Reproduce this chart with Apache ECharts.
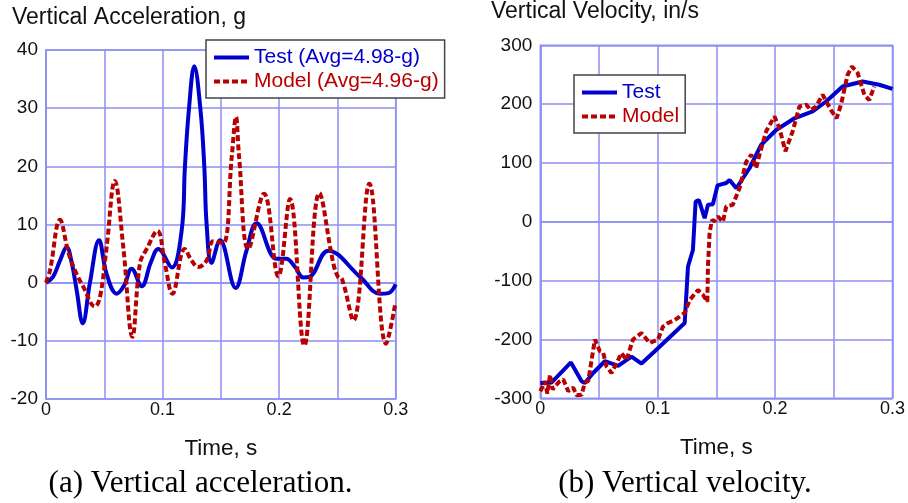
<!DOCTYPE html>
<html>
<head>
<meta charset="utf-8">
<script src="https://cdn.jsdelivr.net/npm/echarts@6/dist/echarts.min.js"></script>
<style>
html,body{margin:0;padding:0;background:#fff;}
#c{width:908px;height:503px;}
</style>
</head>
<body>
<div id="c"></div>
<script>
// ---- Data: (a) Vertical acceleration, g ----
const accTestT = [0,0.006,0.012,0.0178,0.022,0.0263,0.0315,0.0377,0.0455,0.052,0.0607,0.067,0.0735,0.0821,0.09,0.0963,0.1079,0.1164,0.1192,0.1227,0.1272,0.1324,0.1358,0.1378,0.142,0.1493,0.1627,0.172,0.1807,0.1979,0.206,0.2136,0.2207,0.226,0.2422,0.2694,0.2865,0.2937,0.3];
const accTestV = [0,1.0,3.8,6.1,3.5,-1.3,-7.0,0,7.3,1.5,-1.9,-0.5,2.4,-0.6,3.5,5.8,2.6,9,20,30,37.2,30,20,10,3.4,7.3,-0.9,5.5,10.2,4.1,4.1,2.7,0.9,1.0,5.5,1.0,-1.9,-1.8,-0.3];
const accModelT = [0,0.0034,0.012,0.0191,0.0249,0.032,0.042,0.0463,0.052,0.059,0.0663,0.0741,0.0806,0.0864,0.0955,0.102,0.1084,0.119,0.1249,0.1306,0.1378,0.1435,0.152,0.1595,0.163,0.1655,0.1736,0.187,0.1993,0.2093,0.2216,0.2345,0.2465,0.2508,0.2537,0.2637,0.2774,0.2917,0.2994];
const accModelV = [0,2.1,10.8,5.3,2.1,-0.7,-4.1,-2.5,6.1,17.5,6.1,-9.3,3.3,5.8,8.9,3.3,-1.9,5.8,3.8,2.7,3.8,7.1,6.8,22,28.5,22,5.8,15.3,1.1,14.4,-10.8,15.4,3.3,0.9,0.7,-6.5,17.0,-10.5,-3.9];

// ---- Data: (b) Vertical velocity, in/s ----
const velTestT = [0,0.0097,0.0261,0.0352,0.038,0.045,0.055,0.0663,0.0777,0.0862,0.0975,0.123,0.1258,0.13,0.1323,0.1351,0.14,0.1428,0.147,0.151,0.1584,0.1612,0.167,0.1782,0.1882,0.2009,0.2165,0.232,0.2434,0.2575,0.2745,0.2887,0.3];
const velTestV = [-274,-273,-239,-271,-274,-257,-237,-245,-229,-241,-220,-172,-76,-48,34.5,37,6,29,30,62,66,71,57,91,131,156,176,187.5,204.5,230,238.5,233,226];
const velModelT = [0,0.002,0.004,0.006,0.0083,0.0105,0.0125,0.016,0.0196,0.0238,0.028,0.031,0.0352,0.038,0.0408,0.0465,0.0507,0.0535,0.0564,0.0607,0.065,0.0692,0.0734,0.079,0.0862,0.0932,0.1003,0.1045,0.1088,0.1145,0.1187,0.123,0.1272,0.1343,0.1385,0.1423,0.1428,0.1442,0.1462,0.1485,0.1513,0.1555,0.1584,0.164,0.1697,0.1754,0.1797,0.1839,0.1867,0.1924,0.1995,0.2037,0.2088,0.215,0.2207,0.2264,0.2306,0.2349,0.2405,0.2476,0.2524,0.2561,0.2618,0.2655,0.2703,0.276,0.2802,0.2845];
const velModelV = [-288,-280,-271,-292,-260,-285,-280,-272,-268,-288,-282,-295,-294,-273,-271,-200,-220,-222,-246,-257,-240,-223,-235,-200,-189,-206,-200,-178,-172,-167,-161,-155,-133,-116,-124,-136,-76,-19,3,1,9,0,26,29,57,102,114,91,114,154,179,159,120,154,196,199,190,196,216,190,176,199,250,264,253,216,207,230];

const xTicks = ['0','0.1','0.2','0.3'];
const accName = ['Test (Avg=4.98-g)','Model (Avg=4.96-g)'];
const velName = ['Test','Model'];
const titles = ['Vertical Acceleration, g','Vertical Velocity, in/s'];
const captions = ['(a) Vertical acceleration.','(b) Vertical velocity.'];
const xName = 'Time, s';

const zip = (t, v) => t.map((x, i) => [x, v[i]]);
const BLUE = '#0000cc', RED = '#b80000', GRIDC = '#8f8ff2';
const SANS = 'Liberation Sans';

function xAxis(gi) {
  return {
    type: 'value', gridIndex: gi, min: 0, max: 0.3, interval: 0.05,
    axisLine: {show: true, lineStyle: {color: GRIDC, width: 1.5}},
    axisTick: {show: false},
    splitLine: {show: true, lineStyle: {color: GRIDC, width: 1.5}},
    axisLabel: {
      margin: 2, fontSize: 18, color: '#111', fontFamily: SANS,
      formatter: v => { const r = Math.round(v * 100); return r % 10 === 0 ? xTicks[r / 10] : ''; }
    },
    name: xName, nameLocation: 'middle', nameGap: 38,
    nameTextStyle: {fontSize: 22.5, color: '#111', fontFamily: SANS}
  };
}
function yAxis(gi, min, max, interval) {
  return {
    type: 'value', gridIndex: gi, min, max, interval,
    axisLine: {show: true, lineStyle: {color: GRIDC, width: 1.5}},
    axisTick: {show: false},
    splitLine: {show: true, lineStyle: {color: GRIDC, width: 1.5}},
    axisLabel: {margin: 8, fontSize: 19, color: '#111', fontFamily: SANS}
  };
}
function legend(names, left, top) {
  return {
    data: [{name: names[0], textStyle: {color: BLUE}}, {name: names[1], textStyle: {color: RED}}],
    left, top, orient: 'vertical', itemWidth: 35, itemHeight: 14, itemGap: 3,
    padding: [7, 6, 6, 6], borderColor: '#444', borderWidth: 1.5, backgroundColor: '#fff',
    textStyle: {fontSize: 21, fontFamily: SANS},
    itemStyle: {opacity: 0},
    lineStyle: {width: 4},
    selectedMode: false
  };
}
function line(name, data, xi, color, dashed, smooth) {
  return {
    name, type: 'line', xAxisIndex: xi, yAxisIndex: xi, data,
    symbol: 'none', showSymbol: false, smooth, animation: false,
    lineStyle: {color, width: 4, type: dashed ? [6, 3] : 'solid'},
    itemStyle: {color}
  };
}

const chart = echarts.init(document.getElementById('c'), null, {renderer: 'canvas'});
chart.setOption({
  animation: false,
  backgroundColor: '#fff',
  title: [
    {text: titles[0], left: 12, top: 6, padding: 0, textStyle: {fontSize: 23, fontWeight: 'normal', color: '#111', fontFamily: SANS}},
    {text: titles[1], left: 491, top: 0, padding: 0, textStyle: {fontSize: 23, fontWeight: 'normal', color: '#111', fontFamily: SANS}}
  ],
  grid: [
    {left: 46, top: 50, width: 349.7, height: 349, show: true, borderColor: GRIDC, borderWidth: 1.5, backgroundColor: 'transparent'},
    {left: 540.3, top: 45.3, width: 353, height: 353, show: true, borderColor: GRIDC, borderWidth: 1.5, backgroundColor: 'transparent'}
  ],
  xAxis: [xAxis(0), xAxis(1)],
  yAxis: [yAxis(0, -20, 40, 10), yAxis(1, -300, 300, 100)],
  legend: [legend(accName, 206, 40), legend(velName, 574, 75)],
  series: [
    line(accName[0], zip(accTestT, accTestV), 0, BLUE, false, 0.4),
    line(accName[1], zip(accModelT, accModelV), 0, RED, true, 0.4),
    line(velName[0], zip(velTestT, velTestV), 1, BLUE, false, false),
    line(velName[1], zip(velModelT, velModelV), 1, RED, true, false)
  ],
  graphic: [
    {type: 'text', style: {text: captions[0], x: 200.5, y: 484, align: 'center', verticalAlign: 'middle', fontSize: 31, fontFamily: 'Liberation Serif', fill: '#000'}},
    {type: 'text', style: {text: captions[1], x: 685, y: 484, align: 'center', verticalAlign: 'middle', fontSize: 31, fontFamily: 'Liberation Serif', fill: '#000'}}
  ]
});
</script>
</body>
</html>
